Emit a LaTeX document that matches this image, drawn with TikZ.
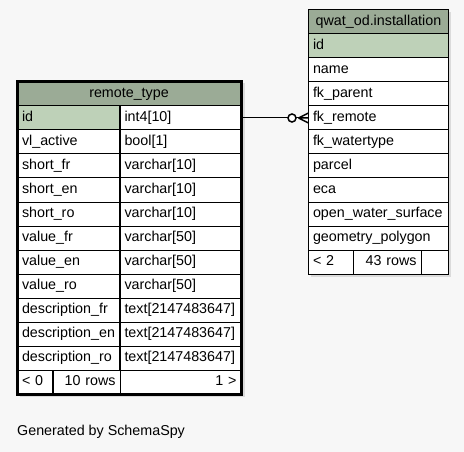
\documentclass[tikz,border=0pt]{standalone}
\usepackage{fontspec}
\setmainfont{Liberation Sans}
\usetikzlibrary{positioning,calc}

\definecolor{pagebg}{HTML}{F7F7F7}
\definecolor{headgreen}{HTML}{9BAB96}
\definecolor{keygreen}{HTML}{BED1B8}

\begin{document}
\begin{tikzpicture}[
    x=1pt, y=-1pt,
    cell/.style={draw=black, fill=white, line width=1pt, text width=#1, align=left,
        minimum height=24pt, inner xsep=4.5pt, inner ysep=0pt, outer sep=0pt,
        text height=10pt, text depth=3pt, anchor=north west,
        font=\fontsize{14.3}{16}\selectfont},
    headcell/.style={cell=#1, fill=headgreen, align=center},
    keycell/.style={cell=#1, fill=keygreen},
    countcell/.style={cell=#1, align=right},
    shadow/.style={fill=black!14, draw=none}
    ]
        %Page
        \fill[pagebg] (0,0) rectangle (464,452);
        \useasboundingbox (0,0) rectangle (464,452);

        %Shadows
        \fill[shadow] (19.5,83.5) rectangle (245,397);
        \fill[shadow] (310.5,12.5) rectangle (451,276.5);

        %remote_type
        \node[headcell=214] (rt-head) at (17.5,82) {remote\_type};
        \node[keycell=93] (rt-name-1) at (17.5,106) {id};
        \node[cell=112] (rt-type-1) at (120,106) {int4[10]};
        \foreach \name/\type [count=\i from 2] in {
            vl\_active/bool[1], short\_fr/varchar[10], short\_en/varchar[10],
            short\_ro/varchar[10], value\_fr/varchar[50], value\_en/varchar[50],
            value\_ro/varchar[50], description\_fr/text[2147483647],
            description\_en/text[2147483647], description\_ro/text[2147483647]} {
            \node[cell=93] (rt-name-\i) at (17.5,82+24*\i) {\name};
            \node[cell=112] (rt-type-\i) at (120,82+24*\i) {\type};
        }
        \node[cell=26] (rt-prev) at (17.5,370) {< 0};
        \node[countcell=58] (rt-rows) at (53,370) {10 rows};
        \node[countcell=112] (rt-next) at (120,370) {1 >};
        \draw[line width=3pt] (rt-head.north west) rectangle (rt-next.south east);

        %qwat_od.installation
        \node[headcell=131] (inst-head) at (308.5,10) {qwat\_od.installation};
        \node[keycell=131] (inst-1) at (308.5,34) {id};
        \foreach \name [count=\i from 2] in {
            name, fk\_parent, fk\_remote, fk\_watertype, parcel, eca,
            open\_water\_surface, geometry\_polygon} {
            \node[cell=131] (inst-\i) at (308.5,10+24*\i) {\name};
        }
        \node[cell=35.5] (inst-prev) at (308.5,250) {< 2};
        \node[countcell=59] (inst-rows) at (353,250) {43 rows};
        \node[cell=18.5] (inst-next) at (421,250) {};

        %Lines
        \draw[line width=1pt] (rt-type-1.east) -- (inst-4.west);
        \draw[line width=1.5pt, fill=white] ($(inst-4.west)+(-16.5,0)$) circle (4pt);
        \draw[line width=1.5pt]
            ($(inst-4.west)+(-10,0)$) -- ($(inst-4.west)+(0,-5)$)
            ($(inst-4.west)+(-10,0)$) -- (inst-4.west)
            ($(inst-4.west)+(-10,0)$) -- ($(inst-4.west)+(0,5)$);

        %Footer
        \node[anchor=west, inner sep=0pt, font=\fontsize{14.3}{16}\selectfont]
            (credit) at (17,432) {Generated by SchemaSpy};
    \end{tikzpicture}
\end{document}
